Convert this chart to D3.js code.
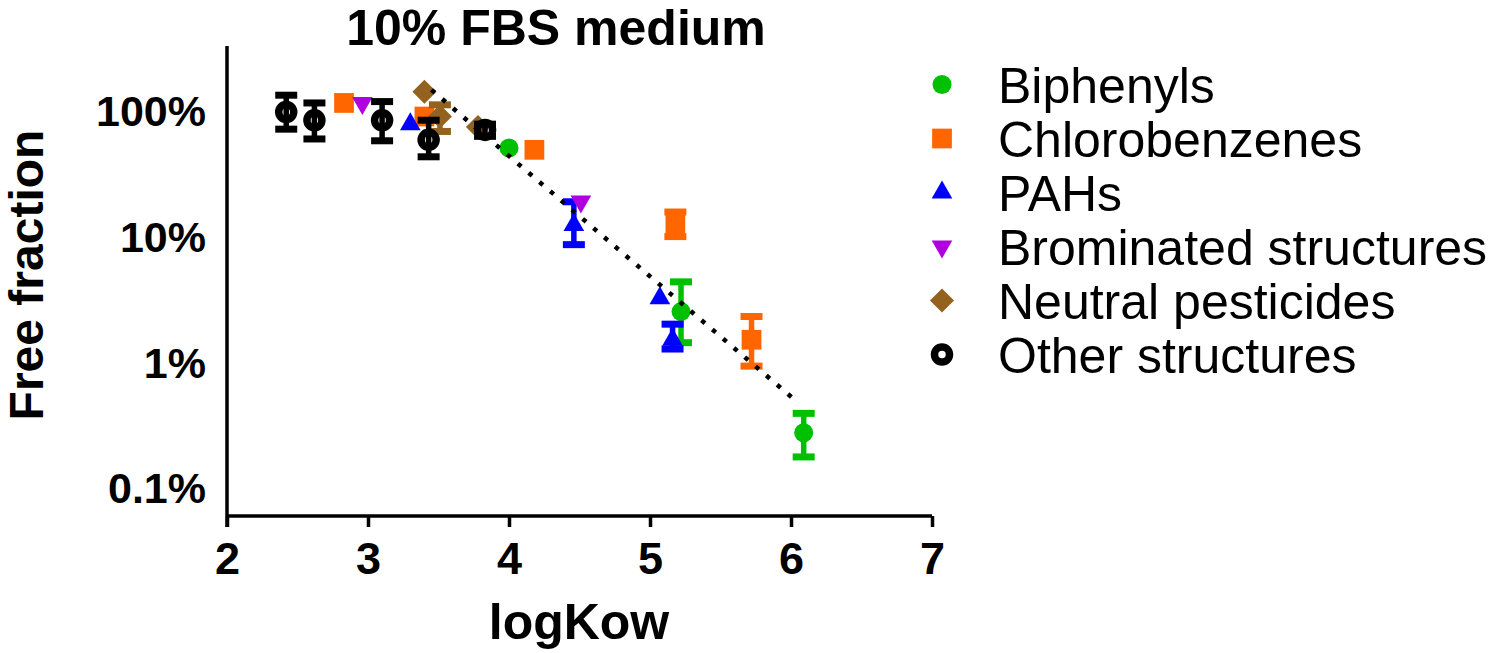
<!DOCTYPE html>
<html>
<head>
<meta charset="utf-8">
<script src="https://cdn.jsdelivr.net/npm/d3@7"></script>
<style>
  body { margin: 0; background: #fff; }
  text { font-family: "Liberation Sans", Arial, sans-serif; }
</style>
</head>
<body>
<div id="chart"></div>
<script>
// values: logKow and free fraction in %
const seriesNames = ["Biphenyls", "Chlorobenzenes", "PAHs", "Brominated structures", "Neutral pesticides", "Other structures"];
const seriesColors = ["#00c000", "#ff6600", "#0000ff", "#b000e0", "#93621e", "#000000"];

const biphenylsX = [4.00, 5.22, 6.09];
const biphenylsY = [51.7, 2.58, 0.28];
const biphenylsLo = [null, 1.46, 0.18];
const biphenylsHi = [null, 4.45, 0.40];

const chlorobenzenesX = [2.83, 3.40, 4.18, 5.18, 5.72];
const chlorobenzenesY = [118, 92, 50, 12.8, 1.54];
const chlorobenzenesLo = [null, null, null, 10.2, 0.95];
const chlorobenzenesHi = [null, null, null, 16, 2.36];

const pahsX = [3.30, 4.46, 5.07, 5.16];
const pahsY = [80, 12.6, 3.3, 1.54];
const pahsLo = [null, 8.8, null, 1.3];
const pahsHi = [null, 19.3, null, 2.05];

const brominatedX = [2.96, 4.51];
const brominatedY = [118, 19.4];

const pesticidesX = [3.40, 3.51, 3.78];
const pesticidesY = [145, 92, 76];
const pesticidesLo = [null, 70, null];
const pesticidesHi = [null, 114, null];

const otherX = [2.42, 2.62, 3.10, 3.43, 3.83];
const otherY = [100, 86, 86, 60, 72];
const otherLo = [73, 61, 59, 44, 64];
const otherHi = [136, 118, 121, 86, 80];

// dotted trend line end points
const fitX = [3.45, 6.02];
const fitY = [150, 0.52];

const xTicks = [2, 3, 4, 5, 6, 7];
const yTicks = [0.1, 1, 10, 100];

const width = 1494, height = 653;
const svg = d3.select("#chart").append("svg")
    .attr("width", width)
    .attr("height", height);

const x = d3.scaleLinear().domain([2, 7]).range([227, 932]);
const y = d3.scaleLog().domain([0.061, 335]).range([516, 46]);

// axes
const xAxis = d3.axisBottom(x).tickValues(xTicks).tickSize(11).tickPadding(15).tickFormat(d3.format("d"));
const yAxis = d3.axisLeft(y).tickValues(yTicks).tickSize(0).tickPadding(21).tickFormat(d => d + "%");

const gx = svg.append("g").attr("transform", "translate(0,516)").call(xAxis);
const gy = svg.append("g").attr("transform", "translate(227,0)").call(yAxis);
gx.select(".domain").attr("d", "M227,0H932");
gy.select(".domain").attr("d", "M0,46V527");
svg.selectAll(".domain, .tick line").attr("stroke", "#000").attr("stroke-width", 3.5);
gx.selectAll(".tick text").attr("font-size", 45).attr("font-weight", "bold").attr("fill", "#000")
    .attr("font-family", "Liberation Sans, Arial, sans-serif");
gy.selectAll(".tick text").attr("font-size", 43).attr("font-weight", "bold").attr("fill", "#000")
    .attr("font-family", "Liberation Sans, Arial, sans-serif");

// titles
svg.append("text").attr("x", 556).attr("y", 45).attr("text-anchor", "middle")
    .attr("font-size", 50).attr("font-weight", "bold").text("10% FBS medium");
svg.append("text").attr("x", 579).attr("y", 639).attr("text-anchor", "middle")
    .attr("font-size", 50).attr("font-weight", "bold").text("logKow");
svg.append("text").attr("transform", "translate(43,275) rotate(-90)").attr("text-anchor", "middle")
    .attr("font-size", 48).attr("font-weight", "bold").text("Free fraction");

// marker shapes
function marker(g, kind, color){
    if (kind == 0){
        g.append("circle").attr("r", 9.5).attr("fill", color);
    } else if (kind == 1){
        g.append("path").attr("d", d3.symbol(d3.symbolSquare, 390)()).attr("fill", color);
    } else if (kind == 2){
        g.append("path").attr("d", d3.symbol(d3.symbolTriangle, 185)()).attr("fill", color);
    } else if (kind == 3){
        g.append("path").attr("d", d3.symbol(d3.symbolTriangle, 185)()).attr("transform", "rotate(180)").attr("fill", color);
    } else if (kind == 4){
        g.append("path").attr("d", d3.symbol(d3.symbolSquare, 290)()).attr("transform", "rotate(45)").attr("fill", color);
    } else {
        g.append("circle").attr("r", 7.5).attr("fill", "none").attr("stroke", color).attr("stroke-width", 7.5);
    }
}

const series = [
    [biphenylsX, biphenylsY, biphenylsLo, biphenylsHi],
    [chlorobenzenesX, chlorobenzenesY, chlorobenzenesLo, chlorobenzenesHi],
    [pahsX, pahsY, pahsLo, pahsHi],
    [brominatedX, brominatedY, [], []],
    [pesticidesX, pesticidesY, pesticidesLo, pesticidesHi],
    [otherX, otherY, otherLo, otherHi]
];

series.forEach(function(s, k){
    const color = seriesColors[k];
    const g = svg.append("g");
    for (let i = 0; i < s[0].length; i++){
        const px = x(s[0][i]);
        const lo = s[2][i], hi = s[3][i];
        if (lo != null && hi != null){
            g.append("line").attr("x1", px).attr("x2", px).attr("y1", y(lo)).attr("y2", y(hi))
                .attr("stroke", color).attr("stroke-width", 5.5);
            [lo, hi].forEach(function(v){
                g.append("line").attr("x1", px - 11).attr("x2", px + 11).attr("y1", y(v)).attr("y2", y(v))
                    .attr("stroke", color).attr("stroke-width", 7).attr("stroke-linecap", "butt");
            });
        }
        const m = g.append("g").attr("transform", `translate(${px},${y(s[1][i])})`);
        marker(m, k, color);
    }
});

// trend line
svg.append("line")
    .attr("x1", x(fitX[0])).attr("y1", y(fitY[0]))
    .attr("x2", x(fitX[1])).attr("y2", y(fitY[1]))
    .attr("stroke", "#000").attr("stroke-width", 4.5)
    .attr("stroke-dasharray", "4.5 9.7");

// legend
const legend = svg.append("g");
seriesNames.forEach(function(name, i){
    const ly = 84.5 + i * 54;
    const m = legend.append("g").attr("transform", `translate(942,${ly})`);
    marker(m, i, seriesColors[i]);
    legend.append("text").attr("x", 998).attr("y", ly + 18)
        .attr("font-size", 50).attr("fill", "#000").text(name);
});
</script>
</body>
</html>
